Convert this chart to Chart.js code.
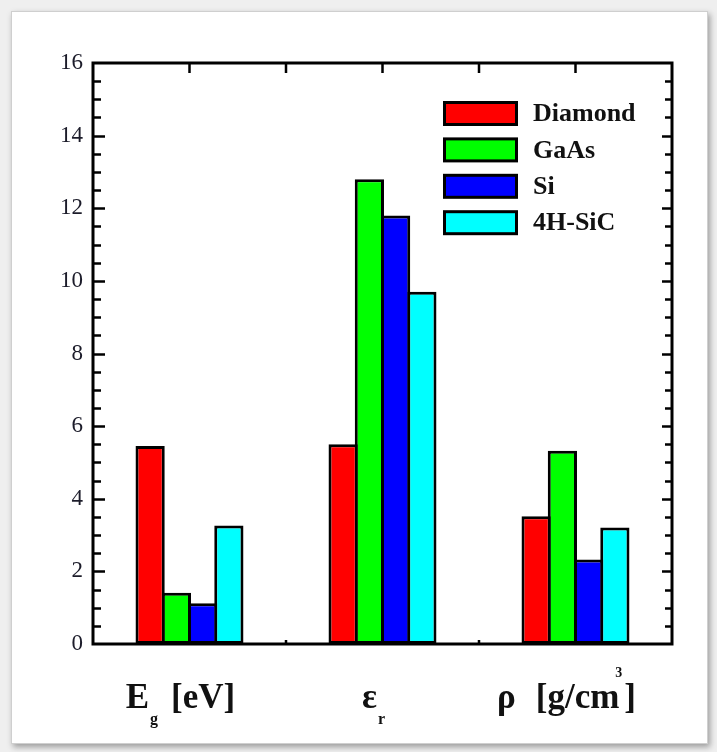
<!DOCTYPE html>
<html>
<head>
<meta charset="utf-8">
<script src="https://cdn.jsdelivr.net/npm/chart.js@4.4.1/dist/chart.umd.min.js"></script>
<style>
  html, body { margin:0; padding:0; background:#efefef; width:717px; height:752px; overflow:hidden; }
  #panel { position:absolute; left:11px; top:11px; width:695px; height:731px; background:#ffffff;
           border:1px solid #cfcfcf; box-shadow:2px 3px 6px rgba(0,0,0,0.35); }
  #c { position:absolute; left:0; top:0; }
</style>
</head>
<body>
<div id="panel"></div>
<canvas id="c" width="717" height="752"></canvas>
<script>
// ---- data ----
const categories = ['E_g [eV]', 'ε_r', 'ρ [g/cm^3]'];
const seriesNames = ['Diamond', 'GaAs', 'Si', '4H-SiC'];
const diamond = [5.45, 5.5, 3.52];
const gaas    = [1.41, 12.8, 5.32];
const si      = [1.12, 11.8, 2.33];
const sic     = [3.26, 9.7, 3.21];
const yTicks  = [0, 2, 4, 6, 8, 10, 12, 14, 16];

const seriesValues = [diamond, gaas, si, sic];
const seriesColors = ['#ff0000', '#00ff00', '#0000ff', '#00ffff'];

const SERIF = '"Liberation Serif", "Times New Roman", serif';

// label pieces: [text, size, dy, gapAfter]
function labelRuns(label) {
  const runs = [];
  const m = label.match(/^(.)_(\w)(.*)$/);
  let rest;
  if (m) {
    runs.push([m[1], 35, 0, 1]);
    runs.push([m[2], 16, 16, 0]);
    rest = m[3];
  } else {
    runs.push([label[0], 35, 0, 0]);
    rest = label.slice(1);
  }
  rest = rest.trim();
  if (rest.length) {
    const sup = rest.match(/^(.*)\^(\w)(.*)$/);
    if (sup) {
      runs[runs.length - 1][3] += 20;
      runs.push([sup[1], 35, 0, -4]);
      runs.push([sup[2], 14, -31, 2]);
      runs.push([sup[3], 35, 0, 0]);
    } else {
      runs[runs.length - 1][3] += 13;
      runs.push([rest, 35, 0, 0]);
    }
  }
  return runs;
}

const framePlugin = {
  id: 'frame',
  afterDatasetsDraw(chart) {
    const ctx = chart.ctx;
    const a = chart.chartArea;
    const ys = chart.scales.y, xs = chart.scales.x;
    ctx.save();
    ctx.strokeStyle = '#000';
    ctx.lineWidth = 3;
    ctx.lineCap = 'butt';
    ctx.strokeRect(a.left, a.top, a.right - a.left, a.bottom - a.top);
    // y ticks (major + minor), left and right, inward
    ctx.lineWidth = 2.5;
    const step = 2, minorStep = step / 4;
    for (let v = ys.min + minorStep; v < ys.max - 1e-9; v += minorStep) {
      const y = Math.round(ys.getPixelForValue(v)) + 0.5;
      const major = Math.abs(v / step - Math.round(v / step)) < 1e-6;
      ctx.beginPath();
      ctx.moveTo(a.left, y); ctx.lineTo(a.left + (major ? 12 : 8), y);
      ctx.moveTo(a.right, y); ctx.lineTo(a.right - (major ? 10 : 7), y);
      ctx.stroke();
    }
    // top ticks at category centers and boundaries, bottom ticks at boundaries
    const n = chart.data.labels.length;
    const pos = [];
    for (let i = 0; i < n; i++) {
      pos.push([xs.getPixelForValue(i), false]);
      if (i < n - 1) pos.push([(xs.getPixelForValue(i) + xs.getPixelForValue(i + 1)) / 2, true]);
    }
    pos.forEach(([x, boundary]) => {
      ctx.beginPath();
      ctx.moveTo(x, a.top); ctx.lineTo(x, a.top + 10);
      if (boundary) { ctx.moveTo(x, a.bottom); ctx.lineTo(x, a.bottom - 4); }
      ctx.stroke();
    });
    // category labels
    ctx.fillStyle = '#111';
    ctx.textBaseline = 'alphabetic';
    ctx.textAlign = 'left';
    const baseY = 708;
    chart.data.labels.forEach((lab, i) => {
      const runs = labelRuns(lab);
      let total = 0;
      runs.forEach(r => { ctx.font = 'bold ' + r[1] + 'px ' + SERIF; total += ctx.measureText(r[0]).width + r[3]; });
      let x = xs.getPixelForValue(i) - 9 - total / 2;
      runs.forEach(r => {
        ctx.font = 'bold ' + r[1] + 'px ' + SERIF;
        ctx.fillText(r[0], x, baseY + r[2]);
        x += ctx.measureText(r[0]).width + r[3];
      });
    });
    // legend
    chart.data.datasets.forEach((ds, i) => {
      const bx = 443, by = 101 + i * 36.4, bw = 75, bh = 25;
      ctx.fillStyle = '#000';
      ctx.fillRect(bx, by, bw, bh);
      ctx.fillStyle = ds.backgroundColor;
      ctx.fillRect(bx + 3, by + 3, bw - 6, bh - 6);
      ctx.fillStyle = '#111';
      ctx.font = 'bold 26px ' + SERIF;
      ctx.textBaseline = 'middle';
      ctx.fillText(ds.label, 533, by + bh / 2 + 1);
    });
    ctx.restore();
  }
};

new Chart(document.getElementById('c'), {
  type: 'bar',
  data: {
    labels: categories,
    datasets: seriesNames.map((name, i) => ({
      label: name,
      data: seriesValues[i],
      backgroundColor: seriesColors[i],
      borderColor: '#000',
      borderWidth: 3,
      borderSkipped: false
    }))
  },
  options: {
    responsive: false,
    animation: false,
    devicePixelRatio: 1,
    layout: { padding: { top: 63, right: 45, bottom: 0, left: 0 } },
    datasets: { bar: { categoryPercentage: 0.544, barPercentage: 1.114 } },
    plugins: { legend: { display: false }, tooltip: { enabled: false } },
    scales: {
      x: {
        grid: { display: false, drawTicks: false },
        border: { display: false },
        ticks: { display: false },
        afterFit(s) { s.height = 108; }
      },
      y: {
        min: 0, max: 16,
        afterBuildTicks(s) { s.ticks = yTicks.map(v => ({ value: v })); },
        ticks: { font: { family: SERIF, size: 23 }, color: '#1c1c2a', padding: 10 },
        grid: { display: false, drawTicks: false },
        border: { display: false },
        afterFit(s) { s.width = 93; }
      }
    }
  },
  plugins: [framePlugin]
});
</script>
</body>
</html>
